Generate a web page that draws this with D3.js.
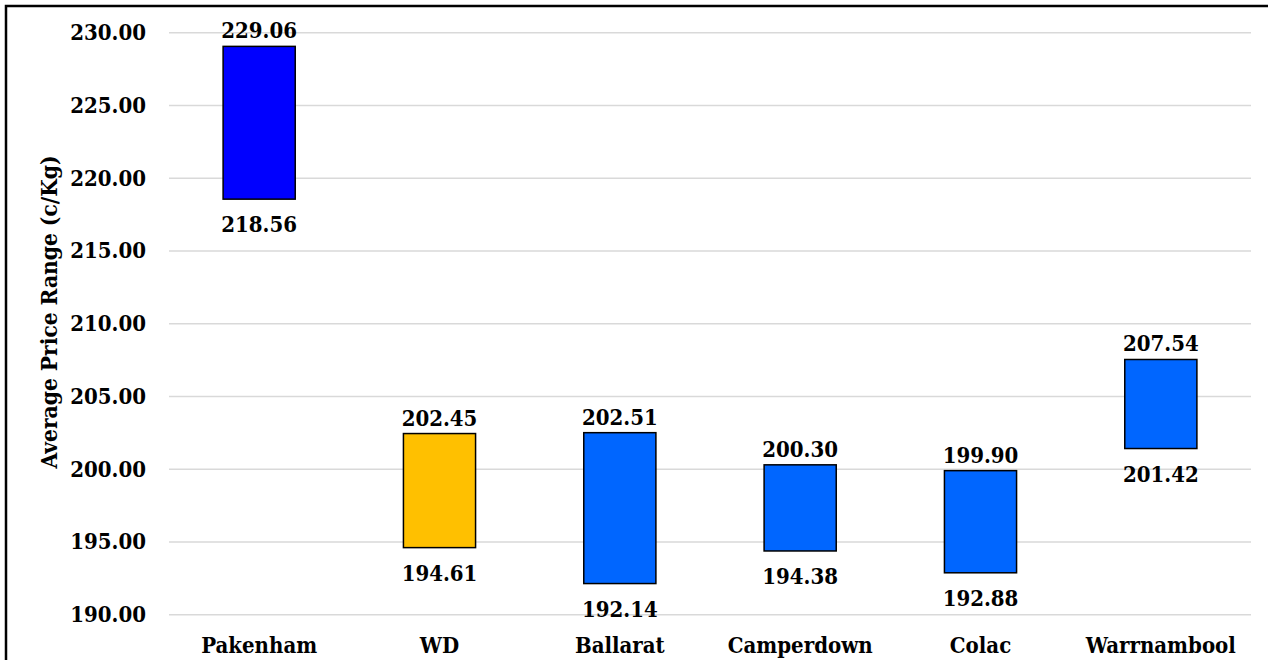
<!DOCTYPE html>
<html>
<head>
<meta charset="utf-8">
<script src="https://cdn.jsdelivr.net/npm/d3@7"></script>
<style>
  html, body { margin: 0; padding: 0; background: #fff; }
  svg { display: block; }
  text { font-family: "DejaVu Serif Condensed", "DejaVu Serif", serif; font-stretch: condensed; font-weight: bold; fill: #000; }
</style>
</head>
<body>
<svg id="chart" width="1268" height="660"></svg>
<script>
// Average price range per saleyard (c/Kg): low and high of each floating bar
const categories = ["Pakenham", "WD", "Ballarat", "Camperdown", "Colac", "Warrnambool"];
const lowValues  = [218.56, 194.61, 192.14, 194.38, 192.88, 201.42];
const highValues = [229.06, 202.45, 202.51, 200.30, 199.90, 207.54];
const barColors  = ["#0000FF", "#FFC000", "#0066FF", "#0066FF", "#0066FF", "#0066FF"];
const yTicks     = [190, 195, 200, 205, 210, 215, 220, 225, 230];
const yTitle     = "Average Price Range (c/Kg)";

const FONT = "'DejaVu Serif Condensed', 'DejaVu Serif', serif";
const svg = d3.select("#chart");
const W = 1268, H = 660;
const plot = { left: 169, right: 1251, top: 32.7, bottom: 614.7 };

// outer frame
svg.append("rect")
  .attr("x", 6).attr("y", 6)
  .attr("width", W + 20).attr("height", H + 20)
  .attr("fill", "none").attr("stroke", "#000").attr("stroke-width", 2.5);

const x = d3.scaleBand().domain(categories)
  .range([plot.left, plot.right]).paddingInner(0.6).paddingOuter(0.3);
const y = d3.scaleLinear().domain([190, 230]).range([plot.bottom, plot.top]);

// horizontal gridlines
svg.append("g").selectAll("line").data(yTicks).join("line")
  .attr("x1", plot.left).attr("x2", plot.right)
  .attr("y1", d => y(d)).attr("y2", d => y(d))
  .attr("stroke", "#d9d9d9").attr("stroke-width", 1.5);

// y axis tick labels
const yAxis = d3.axisLeft(y).tickValues(yTicks).tickFormat(d3.format(".2f")).tickSize(0).tickPadding(0);
const yg = svg.append("g").attr("transform", `translate(146,0)`).call(yAxis);
yg.select(".domain").remove();
yg.selectAll("text")
  .style("font-family", FONT).style("font-weight", "bold").style("font-stretch", "condensed")
  .style("font-size", "22px").attr("fill", "#000");

// x axis category labels
const xAxis = d3.axisBottom(x).tickSize(0).tickPadding(0);
const xg = svg.append("g").attr("transform", `translate(0,${plot.bottom})`).call(xAxis);
xg.select(".domain").remove();
xg.selectAll("text")
  .attr("dy", null).attr("y", 38)
  .style("font-family", FONT).style("font-weight", "bold").style("font-stretch", "condensed")
  .style("font-size", "22px").attr("fill", "#000");

// y axis title
svg.append("text")
  .attr("transform", `translate(57,312) rotate(-90)`)
  .attr("text-anchor", "middle")
  .style("font-size", "22.5px")
  .text(yTitle);

// floating bars
const rows = categories.map((c, i) => ({ c, lo: lowValues[i], hi: highValues[i], color: barColors[i] }));
svg.append("g").selectAll("rect").data(rows).join("rect")
  .attr("x", d => x(d.c))
  .attr("width", x.bandwidth())
  .attr("y", d => y(d.hi))
  .attr("height", d => y(d.lo) - y(d.hi))
  .attr("fill", d => d.color)
  .attr("stroke", "#000").attr("stroke-width", 1.5);

// value labels: high above, low below
const lbl = svg.append("g").attr("text-anchor", "middle").style("font-size", "22px");
lbl.selectAll("text.hi").data(rows).join("text").attr("class", "hi")
  .attr("x", d => x(d.c) + x.bandwidth() / 2)
  .attr("y", d => y(d.hi) - 8)
  .text(d => d.hi.toFixed(2));
lbl.selectAll("text.lo").data(rows).join("text").attr("class", "lo")
  .attr("x", d => x(d.c) + x.bandwidth() / 2)
  .attr("y", d => y(d.lo) + 33)
  .text(d => d.lo.toFixed(2));
</script>
</body>
</html>
